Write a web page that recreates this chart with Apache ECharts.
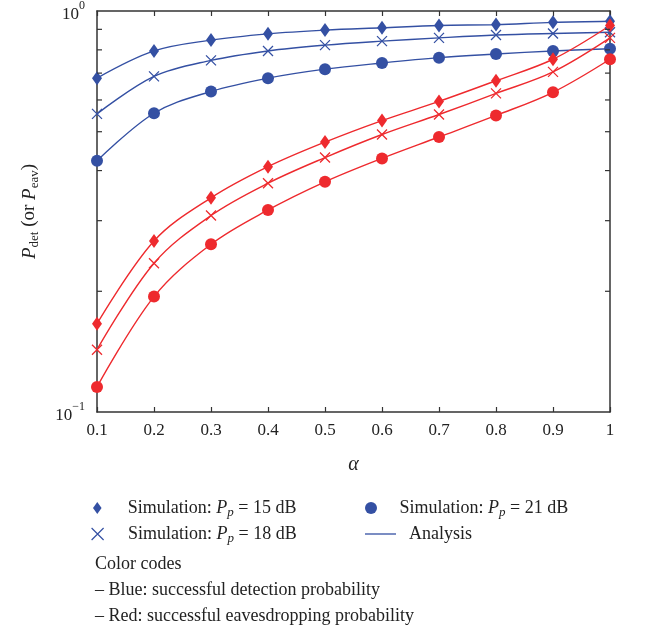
<!DOCTYPE html>
<html>
<head>
<meta charset="utf-8">
<script src="https://cdn.jsdelivr.net/npm/echarts@6/dist/echarts.min.js"></script>
<style>
    html, body { margin: 0; padding: 0; background: #fff; }
    #main { width: 651px; height: 632px; }
</style>
</head>
<body>
<div id="main"></div>
<script>
// 横轴 alpha
var alphaValues = [0.1, 0.2, 0.3, 0.4, 0.5, 0.6, 0.7, 0.8, 0.9, 1.0];
// 蓝色: 检测成功概率
var det15 = [0.680, 0.795, 0.846, 0.877, 0.896, 0.908, 0.920, 0.925, 0.937, 0.943];
var det18 = [0.554, 0.687, 0.753, 0.795, 0.822, 0.841, 0.857, 0.871, 0.879, 0.885];
var det21 = [0.423, 0.556, 0.630, 0.680, 0.716, 0.742, 0.765, 0.781, 0.795, 0.805];
// 红色: 窃听成功概率
var eav15 = [0.166, 0.267, 0.342, 0.409, 0.471, 0.533, 0.595, 0.670, 0.758, 0.920];
var eav18 = [0.143, 0.235, 0.309, 0.372, 0.431, 0.492, 0.552, 0.623, 0.705, 0.857];
var eav21 = [0.1155, 0.194, 0.262, 0.319, 0.375, 0.429, 0.485, 0.549, 0.627, 0.758];
// 对数轴的次刻度
var minorTicks = [0.2, 0.3, 0.4, 0.5, 0.6, 0.7, 0.8, 0.9];

var BLUE = '#3450a3';
var RED = '#ee2a2e';
var AXIS = '#333';
var FONT = "'Liberation Serif', 'DejaVu Serif', serif";

var NAME15 = 'Simulation: Pp = 15 dB';
var NAME18 = 'Simulation: Pp = 18 dB';
var NAME21 = 'Simulation: Pp = 21 dB';
var NAME_ANA = 'Analysis';

var crossPath = 'path://M0,0L10,10M10,0L0,10';
var diamondPath = 'path://M5,0L10,7L5,14L0,7Z';
var linePath = 'path://M0,0L31,0L31,1.3L0,1.3Z';

function pairs(ys) {
    return alphaValues.map(function(x, i) { return [x, ys[i]]; });
}

function simSeries(name, ys, color, kind) {
    var s = {
        name : name,
        type : 'scatter',
        data : pairs(ys),
        z : 5
    };
    if (kind === 'diamond') {
        s.symbol = diamondPath;
        s.symbolSize = [10, 14];
        s.itemStyle = { color : color, opacity : 1 };
    } else if (kind === 'circle') {
        s.symbol = 'circle';
        s.symbolSize = 12;
        s.itemStyle = { color : color, opacity : 1 };
    } else {
        s.symbol = crossPath;
        s.symbolSize = 10;
        s.itemStyle = { color : 'rgba(0,0,0,0)', borderColor : color, borderWidth : 1.3, opacity : 1 };
    }
    return s;
}

function anaSeries(ys, color) {
    return {
        name : NAME_ANA,
        type : 'line',
        data : pairs(ys),
        smooth : 0.35,
        showSymbol : false,
        symbol : 'none',
        lineStyle : { color : color, width : 1.4 },
        itemStyle : { color : color },
        z : 3
    };
}

var myChart = echarts.init(document.getElementById('main'));

function legendText(padLeft) {
    return {
        fontFamily : FONT,
        fontSize : 18,
        color : '#222',
        padding : [0, 0, 0, padLeft],
        rich : {
            t : { fontFamily : FONT, fontSize : 18, color : '#222' },
            i : { fontFamily : FONT, fontSize : 18, fontStyle : 'italic', color : '#222' },
            s : { fontFamily : FONT, fontSize : 13, fontStyle : 'italic', color : '#222', padding : [10, 0, 0, 0] }
        }
    };
}

function legendFormatter(name) {
    if (name === NAME_ANA) {
        return '{t|Analysis}';
    }
    var db = name.split('= ')[1];
    return '{t|Simulation: }{i|P}{s|p}{t| = ' + db + '}';
}

// 每个图例项单独一个 legend 组件, 便于定位
function oneLegend(left, top, padLeft, item) {
    return {
        left : left,
        top : top,
        itemWidth : 31,
        itemHeight : 12,
        itemGap : 0,
        formatter : legendFormatter,
        textStyle : legendText(padLeft),
        selectedMode : false,
        data : [ item ]
    };
}

var option = {
    animation : false,
    backgroundColor : '#fff',
    grid : {
        left : 97,
        right : 41,
        top : 8,
        bottom : 220
    },
    legend : [
        oneLegend(88, 494, 10, { name : NAME15, icon : diamondPath, itemStyle : { color : BLUE } }),
        oneLegend(86, 520, 10, { name : NAME18, icon : crossPath,
            itemStyle : { color : 'rgba(0,0,0,0)', borderColor : BLUE, borderWidth : 1.2 } }),
        oneLegend(360, 494, 8, { name : NAME21, icon : 'circle', itemStyle : { color : BLUE } }),
        oneLegend(360, 520, 8, { name : NAME_ANA, icon : linePath, itemStyle : { color : BLUE } })
    ],
    graphic : [ {
        type : 'text',
        left : 95,
        top : 551,
        style : {
            text : 'Color codes\n\u2013 Blue: successful detection probability\n\u2013 Red: successful eavesdropping probability',
            font : '18px ' + FONT,
            fill : '#222',
            lineHeight : 26
        }
    } ],
    xAxis : [ {
        type : 'value',
        min : 0.1,
        max : 1,
        interval : 0.1,
        name : '\u03b1',
        nameLocation : 'middle',
        nameGap : 43,
        nameTextStyle : { fontFamily : FONT, fontSize : 20, fontStyle : 'italic', color : '#222' },
        axisLine : { lineStyle : { color : AXIS, width : 1.5 } },
        axisTick : { inside : true, length : 5, lineStyle : { color : AXIS, width : 1.2 } },
        axisLabel : {
            margin : 10,
            fontFamily : FONT,
            fontSize : 17,
            color : '#222',
            formatter : function(v) {
                return Math.abs(v - 1) < 1e-9 ? '1' : v.toFixed(1);
            }
        },
        splitLine : { show : false }
    }, {
        type : 'value',
        position : 'top',
        min : 0.1,
        max : 1,
        interval : 0.1,
        axisLine : { show : true, lineStyle : { color : AXIS, width : 1.5 } },
        axisTick : { inside : true, length : 5, lineStyle : { color : AXIS, width : 1.2 } },
        axisLabel : { show : false },
        splitLine : { show : false }
    } ],
    yAxis : [ {
        type : 'log',
        logBase : 10,
        min : 0.1,
        max : 1,
        name : '{i|P}{s|det}{t| (or }{i|P}{s|eav}{t|)}',
        nameLocation : 'middle',
        nameGap : 56,
        nameRotate : 90,
        nameTextStyle : {
            rich : {
                t : { fontFamily : FONT, fontSize : 19, color : '#222' },
                i : { fontFamily : FONT, fontSize : 19, fontStyle : 'italic', color : '#222' },
                s : { fontFamily : FONT, fontSize : 13, color : '#222', padding : [10, 0, 0, 0] }
            }
        },
        axisLine : { lineStyle : { color : AXIS, width : 1.5 } },
        axisTick : { show : false },
        axisLabel : {
            margin : 12,
            formatter : function(v) {
                return v >= 0.99 ? '{b|10}{sup|0}' : '{b|10}{sup|\u22121}';
            },
            rich : {
                b : { fontFamily : FONT, fontSize : 17, color : '#222', padding : [8, 0, 0, 0] },
                sup : { fontFamily : FONT, fontSize : 12, color : '#222', padding : [0, 0, 10, 0] }
            }
        },
        splitLine : { show : false }
    }, {
        type : 'log',
        logBase : 10,
        min : 0.1,
        max : 1,
        position : 'right',
        axisLine : { show : true, lineStyle : { color : AXIS, width : 1.5 } },
        axisTick : { show : false },
        axisLabel : { show : false },
        splitLine : { show : false }
    } ],
    series : [
        anaSeries(det15, BLUE),
        anaSeries(det18, BLUE),
        anaSeries(det21, BLUE),
        anaSeries(eav15, RED),
        anaSeries(eav18, RED),
        anaSeries(eav21, RED),
        simSeries(NAME15, det15, BLUE, 'diamond'),
        simSeries(NAME18, det18, BLUE, 'cross'),
        simSeries(NAME21, det21, BLUE, 'circle'),
        simSeries(NAME15, eav15, RED, 'diamond'),
        simSeries(NAME18, eav18, RED, 'cross'),
        simSeries(NAME21, eav21, RED, 'circle'),
        {
            // 左右两侧的次刻度
            name : 'minorTicks',
            type : 'custom',
            silent : true,
            clip : false,
            z : 10,
            data : minorTicks.map(function(v) { return [0.1, v]; }),
            renderItem : function(params, api) {
                var l = api.coord([0.1, api.value(1)]);
                var r = api.coord([1, api.value(1)]);
                var st = { stroke : AXIS, lineWidth : 1.2 };
                return {
                    type : 'group',
                    children : [ {
                        type : 'line',
                        shape : { x1 : l[0], y1 : l[1], x2 : l[0] + 5, y2 : l[1] },
                        style : st
                    }, {
                        type : 'line',
                        shape : { x1 : r[0], y1 : r[1], x2 : r[0] - 5, y2 : r[1] },
                        style : st
                    } ]
                };
            }
        }
    ]
};

myChart.setOption(option);
</script>
</body>
</html>
